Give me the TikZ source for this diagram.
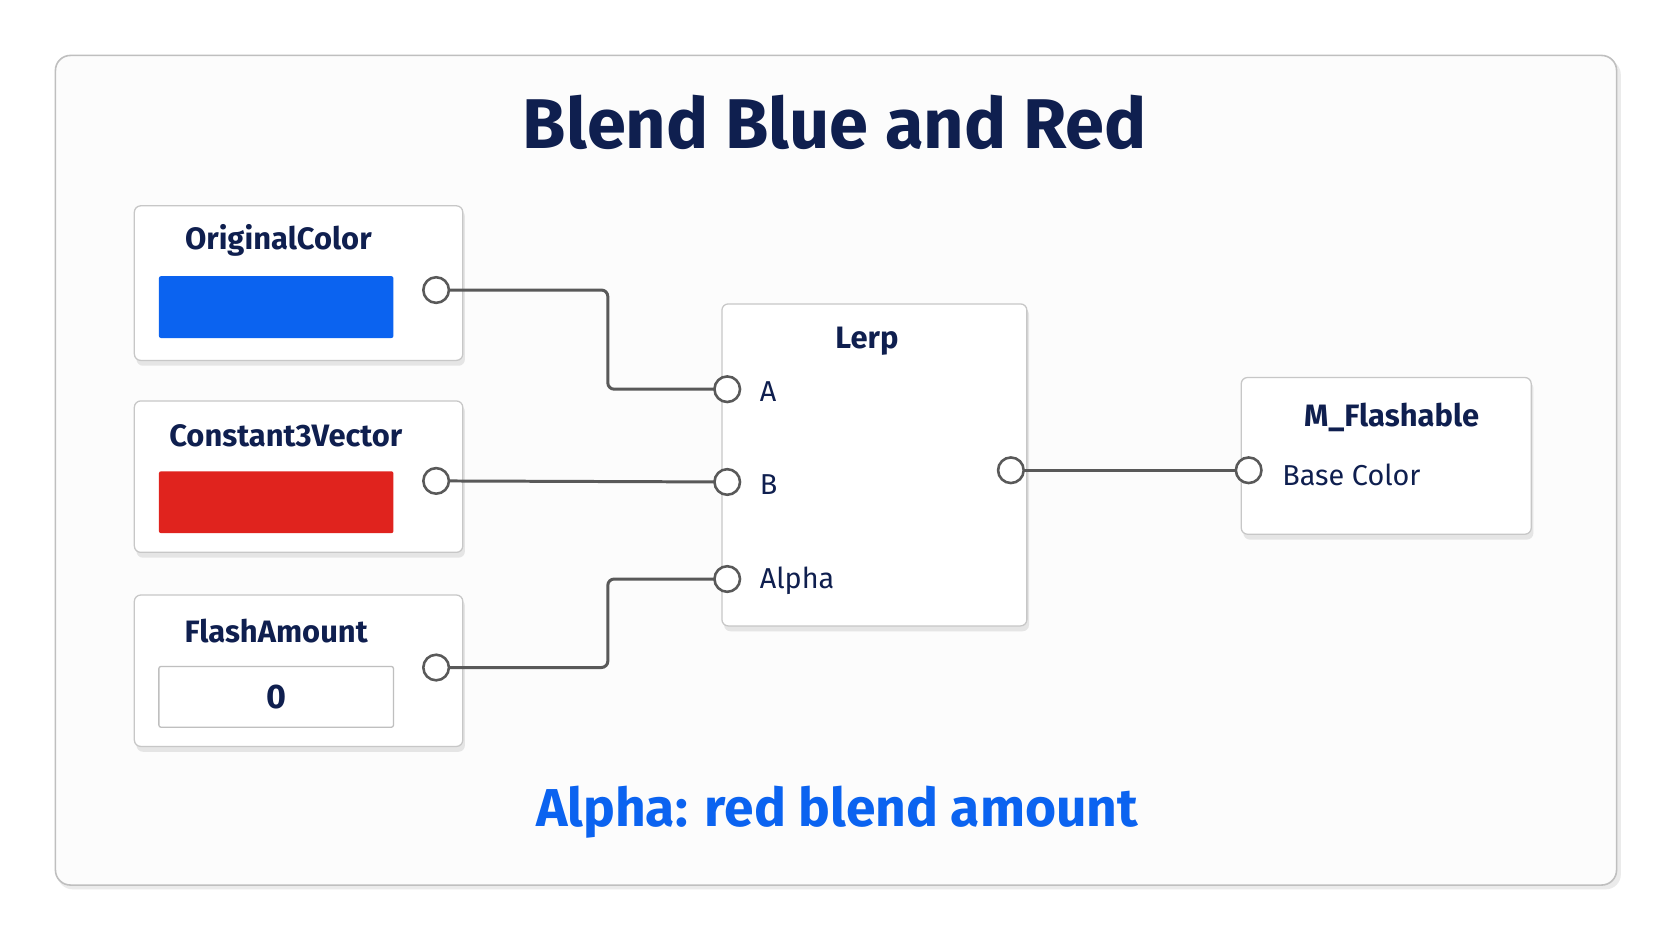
\documentclass[tikz,border=0pt]{standalone}
\usepackage{fontspec}
\setmainfont{Fira Sans}
\begin{document}
\begin{tikzpicture}[x=1pt,y=-1pt,
  nodebox/.style={draw=black!22,line width=1.2pt,fill=white,rounded corners=6pt},
  shadowbox/.style={fill=black!10,rounded corners=6pt},
  port/.style={circle,draw=black!65,line width=2.4pt,fill=white,minimum size=24pt,inner sep=0pt},
  wire/.style={draw=black!65,line width=2.8pt,rounded corners=6pt},
  ttl/.style={font=\fontsize{29}{33}\selectfont\bfseries,text=navy},
  plab/.style={font=\fontsize{27}{31}\selectfont,text=navy,anchor=west}]
\definecolor{navy}{HTML}{0F1F4F}
\definecolor{bluec}{HTML}{0B63F0}
\definecolor{redc}{HTML}{E0231E}
\useasboundingbox (0,0) rectangle (1568,882);
\fill[white] (0,0) rectangle (1568,882);
\fill[black!8,rounded corners=14pt] (54,56) rectangle (1520,834);
\draw[fill=black!1,draw=black!25,line width=1.5pt,rounded corners=14pt] (52,52) rectangle (1516,830);
\node[font=\fontsize{66}{76}\selectfont\bfseries,text=navy] (title) at (783,115) {Blend Blue and Red};
% boxes
\foreach \a/\b/\c/\d in {126/193/434/338,126/376/434/518,126/558/434/700,677/285/963/587,1164/354/1436/501}{
  \fill[shadowbox] (\a+2,\b+4) rectangle (\c+2,\d+5);
  \draw[nodebox] (\a,\b) rectangle (\c,\d);}
\node[ttl] (oc) at (261,225) {OriginalColor};
\fill[bluec,rounded corners=2pt] (149,259) rectangle (369,317);
\node[ttl] (cv) at (268,409) {Constant3Vector};
\fill[redc,rounded corners=2pt] (149,442) rectangle (369,500);
\node[ttl] (fa) at (259,592) {FlashAmount};
\draw[draw=black!25,line width=1.2pt,fill=white,rounded corners=2pt] (149,625) rectangle (369,682);
\node[font=\fontsize{32}{36}\selectfont\bfseries,text=navy] (zero) at (259,654) {0};
\node[ttl] (lerp) at (813,320) {Lerp};
\node[ttl] (mf) at (1305,391) {M\_Flashable};
% wires
\path[wire] (409,272) -- (570,272) -- (570,365) -- (682,365);
\path[wire] (409,451) -- (682,452);
\path[wire] (409,626) -- (570,626) -- (570,543) -- (682,543);
\path[wire] (948,441) -- (1171,441);
% ports
\node[port] (p1) at (409,272) {};
\node[port] (p2) at (409,451) {};
\node[port] (p3) at (409,626) {};
\node[port] (la) at (682,365) {};
\node[port] (lb) at (682,452) {};
\node[port] (lc) at (682,543) {};
\node[port] (lo) at (948,441) {};
\node[port] (mi) at (1171,441) {};
\node[plab] (ta) at (709,367) {A};
\node[plab] (tb) at (709,454) {B};
\node[plab] (tc) at (709,545) {Alpha};
\node[plab] (tm) at (1199,445) {Base Color};
\node[font=\fontsize{50}{58}\selectfont\bfseries,text=bluec] (cap) at (785,762) {Alpha: red blend amount};
\end{tikzpicture}
\end{document}
